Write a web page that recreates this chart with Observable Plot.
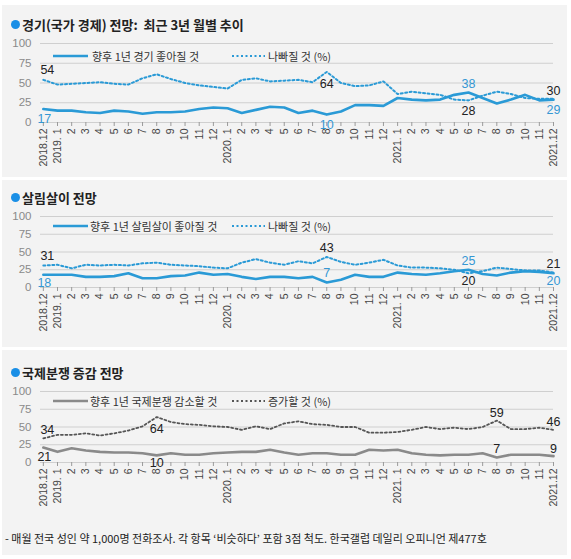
<!DOCTYPE html>
<html><head><meta charset="utf-8">
<script src="https://cdn.jsdelivr.net/npm/d3@7"></script>
<script src="https://cdn.jsdelivr.net/npm/@observablehq/plot@0.6"></script>
<style>
body{margin:0;background:#fff;font-family:"Liberation Sans","Noto Sans CJK KR",sans-serif;}
#root{position:relative;width:571px;height:559px;overflow:hidden;background:#fff;}
.box{position:absolute;left:2px;width:565px;background:#f3f3f3;}
.title{position:absolute;left:22px;height:20px;display:flex;align-items:center;font-family:"Noto Sans CJK KR",sans-serif;font-weight:bold;font-size:13px;color:#222;white-space:pre;}
.dot{position:absolute;left:11px;width:9px;height:9px;border-radius:50%;background:#1a8fe6;}
.leg{position:absolute;height:16px;display:flex;align-items:center;font-family:"Noto Sans CJK KR",sans-serif;font-size:11px;color:#333;white-space:pre;}
.sample{position:absolute;}
.pw{position:absolute;left:0;}
.foot{position:absolute;left:5px;top:528px;height:20px;display:flex;align-items:center;font-family:"Noto Sans CJK KR",sans-serif;font-size:11px;color:#222;white-space:pre;}
</style>
</head><body>
<div id="root"></div>
<script>
// ---- data ----
const xLabels = ["2018.12","2019. 1","2","3","4","5","6","7","8","9","10","11","12",
  "2020. 1","2","3","4","5","6","7","8","9","10","11","12",
  "2021. 1","2","3","4","5","6","7","8","9","10","11","2021.12"];
const yTicks = [0, 25, 50, 75, 100];

const econGood = [17,15,15,13,12,15,14,11,13,13,14,17,19,18,12,16,20,19,12,15,10,14,22,22,21,31,29,28,29,35,38,31,24,29,35,28,29];
const econBad  = [54,48,49,50,51,49,48,56,61,55,50,47,45,43,54,56,52,53,54,51,64,50,46,47,52,36,39,37,35,29,28,34,39,36,31,30,30];

const livGood = [18,18,18,15,15,16,20,13,13,16,17,21,18,19,15,12,15,15,13,15,7,11,18,15,15,21,19,18,20,23,25,19,17,21,23,22,20];
const livBad  = [31,32,27,32,31,32,31,34,35,32,31,30,28,27,35,40,35,32,37,34,43,36,32,35,39,31,28,28,27,25,20,23,28,26,24,24,21];

const conflDown = [21,15,20,17,15,14,14,13,10,13,11,11,13,14,15,15,18,14,11,13,13,11,11,18,17,18,13,11,10,11,11,13,7,11,11,11,9];
const conflUp   = [34,39,39,41,38,41,45,51,64,57,54,53,51,50,46,51,47,55,58,54,53,50,50,42,42,43,46,50,47,49,47,50,59,47,47,49,46];

const titles = ["경기(국가 경제) 전망:  최근 3년 월별 추이", "살림살이 전망", "국제분쟁 증감 전망"];
const legendA = ["향후 1년 경기 좋아질 것", "향후 1년 살림살이 좋아질 것", "향후 1년 국제분쟁 감소할 것"];
const legendB = ["나빠질 것 (%)", "나빠질 것 (%)", "증가할 것 (%)"];
const footnote = "- 매월 전국 성인 약 1,000명 전화조사. 각 항목 ‘비슷하다’ 포함 3점 척도. 한국갤럽 데일리 오피니언 제477호";

// labelled month indices per series
const econMarks = [0, 20, 30, 36];
const livMarks = [0, 20, 30, 36];
const conflMarks = [0, 8, 32, 36];

// ---- drawing ----
const root = document.getElementById("root");
const BLUE = "#2a9ad6", BLUE_T = "#3597d3", DARK = "#222";
const FONT = "Liberation Sans, Noto Sans CJK KR, sans-serif";

function el(cls, style, text) {
  const d = document.createElement("div");
  d.className = cls;
  Object.assign(d.style, style);
  if (text != null) d.textContent = text;
  root.appendChild(d);
  return d;
}
function sample(x, y, w, color, width, dash) {
  const ns = "http://www.w3.org/2000/svg";
  const s = document.createElementNS(ns, "svg");
  s.setAttribute("class", "sample");
  s.setAttribute("width", w); s.setAttribute("height", 6);
  s.style.left = x + "px"; s.style.top = (y - 3) + "px"; s.style.position = "absolute";
  const l = document.createElementNS(ns, "line");
  l.setAttribute("x1", 0); l.setAttribute("x2", w); l.setAttribute("y1", 3); l.setAttribute("y2", 3);
  l.setAttribute("stroke", color); l.setAttribute("stroke-width", width);
  if (dash) l.setAttribute("stroke-dasharray", dash);
  s.appendChild(l);
  root.appendChild(s);
}

function panel(cfg) {
  const {good, bad, goodColor, badColor, goodWidth, badWidth, dash, svgTop, height, labels} = cfg;
  const labelMarks = labels.map(l => Plot.text([{i: l.i, v: l.series[l.i]}], {
    x: "i", y: "v", text: d => String(d.v), dy: l.dy, dx: l.dx || 0,
    fill: l.color, fontSize: 12.5, fontFamily: FONT
  }));
  const chart = Plot.plot({
    width: 571, height,
    marginTop: 8, marginBottom: 50, marginLeft: 40, marginRight: 18,
    x: {domain: [-0.2, 36], axis: null, label: null},
    y: {domain: [0, 100], axis: null, label: null},
    style: {background: "transparent", fontFamily: FONT, overflow: "visible"},
    marks: [
      Plot.gridY(yTicks, {stroke: "#cfcfcf", strokeOpacity: 1}),
      Plot.axisY(yTicks, {tickSize: 0, tickPadding: 9, fill: "#8a8a8a", fontSize: 11.5, label: null}),
      Plot.axisX(d3.range(xLabels.length), {tickFormat: i => xLabels[i], tickRotate: -90, tickSize: 4, tickPadding: 2,
        stroke: "#9a9a9a", fill: "#444", fontSize: 10.5, label: null}),
      Plot.line(bad, {x: (d, i) => i, y: d => d, stroke: badColor, strokeWidth: badWidth, strokeDasharray: dash}),
      Plot.line(good, {x: (d, i) => i, y: d => d, stroke: goodColor, strokeWidth: goodWidth}),
      ...labelMarks
    ]
  });
  const w = el("pw", {top: svgTop + "px"});
  w.appendChild(chart);
}

// boxes
el("box", {top: "5px", height: "172px"});
el("box", {top: "180px", height: "167px"});
el("box", {top: "350px", height: "205px"});

// titles
[24, 197, 372.5].forEach((cy, k) => {
  el("dot", {top: (cy - 4.5) + "px"});
  el("title", {top: (cy - 10) + "px"}, titles[k]);
});

// legends
const legY = [56, 226, 401];
const legCol = [[BLUE, BLUE], [BLUE, BLUE], ["#8a8a8a", "#555"]];
const legXA = [92, 90, 90];
legY.forEach((y, k) => {
  sample(53, y, 35, legCol[k][0], 2.6, null);
  el("leg", {top: (y - 8) + "px", left: legXA[k] + "px"}, legendA[k]);
  sample(232, y, 33, legCol[k][1], 2, "2,2.5");
  el("leg", {top: (y - 8) + "px", left: "268px"}, legendB[k]);
});

// panel 1
panel({good: econGood, bad: econBad, goodColor: BLUE, badColor: BLUE, goodWidth: 2.6, badWidth: 2, dash: "2,2.5",
  svgTop: 35, height: 137,
  labels: [
    {series: econBad, i: econMarks[0], dy: -10, dx: 4, color: DARK},
    {series: econGood, i: econMarks[0], dy: 10, dx: 1, color: BLUE_T},
    {series: econBad, i: econMarks[1], dy: 12, color: DARK},
    {series: econGood, i: econMarks[1], dy: 10, color: BLUE_T},
    {series: econGood, i: econMarks[2], dy: -8, color: BLUE_T},
    {series: econBad, i: econMarks[2], dy: 11, color: DARK},
    {series: econBad, i: econMarks[3], dy: -8, color: DARK},
    {series: econGood, i: econMarks[3], dy: 10.5, color: BLUE_T}
  ]});

// panel 2
panel({good: livGood, bad: livBad, goodColor: BLUE, badColor: BLUE, goodWidth: 2.6, badWidth: 2, dash: "2,2.5",
  svgTop: 208, height: 129,
  labels: [
    {series: livBad, i: livMarks[0], dy: -9, dx: 4, color: DARK},
    {series: livGood, i: livMarks[0], dy: 8.5, dx: 1, color: BLUE_T},
    {series: livBad, i: livMarks[1], dy: -9, color: DARK},
    {series: livGood, i: livMarks[1], dy: -10, color: BLUE_T},
    {series: livGood, i: livMarks[2], dy: -8.5, color: BLUE_T},
    {series: livBad, i: livMarks[2], dy: 7.5, color: DARK},
    {series: livBad, i: livMarks[3], dy: -9, color: DARK},
    {series: livGood, i: livMarks[3], dy: 7.5, color: BLUE_T}
  ]});

// panel 3
panel({good: conflDown, bad: conflUp, goodColor: "#8a8a8a", badColor: "#555", goodWidth: 2.6, badWidth: 1.8, dash: "2,2.5",
  svgTop: 383, height: 129,
  labels: [
    {series: conflUp, i: conflMarks[0], dy: -8, dx: 4, color: DARK},
    {series: conflDown, i: conflMarks[0], dy: 9, dx: 1, color: DARK},
    {series: conflUp, i: conflMarks[1], dy: 11.5, color: DARK},
    {series: conflDown, i: conflMarks[1], dy: 8, color: DARK},
    {series: conflUp, i: conflMarks[2], dy: -7.5, color: DARK},
    {series: conflDown, i: conflMarks[2], dy: -9, color: DARK},
    {series: conflUp, i: conflMarks[3], dy: -7.5, color: DARK},
    {series: conflDown, i: conflMarks[3], dy: -7, color: DARK}
  ]});

el("foot", {}, footnote);
</script>
</body></html>
